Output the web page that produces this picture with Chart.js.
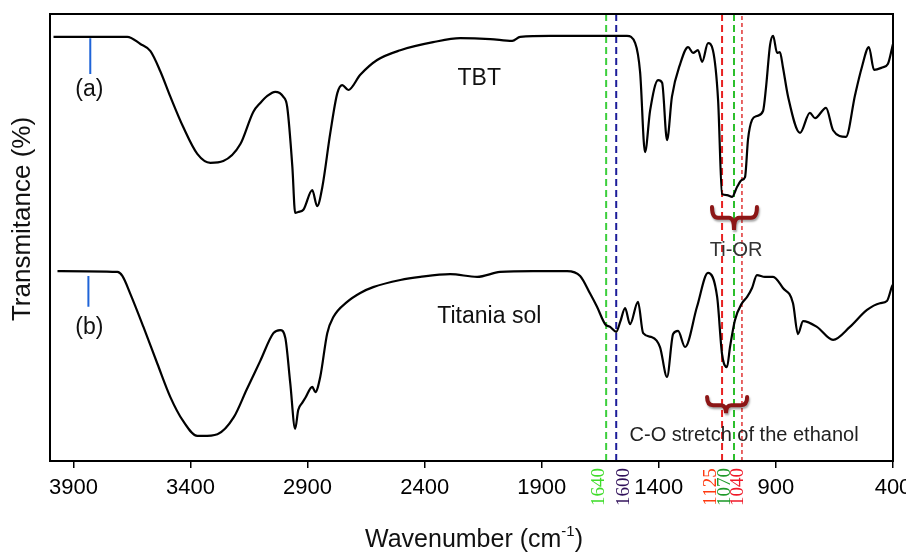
<!DOCTYPE html>
<html>
<head>
<meta charset="utf-8">
<script src="https://cdn.jsdelivr.net/npm/chart.js@4.4.0/dist/chart.umd.min.js"></script>
<style>
  html, body { margin: 0; padding: 0; background: #fff; }
  #wrap { width: 906px; height: 552px; }
</style>
</head>
<body>
<div id="wrap"><canvas id="ftir" width="906" height="552"></canvas></div>
<script>
// wavenumbers (cm-1) and transmittance (arbitrary %, offset spectra)
const tbtWave = [3985, 3827, 3670, 3614, 3571, 3529, 3486, 3431, 3371, 3315, 3260, 3187, 3132, 3102, 3072, 3038, 3004, 2987, 2965, 2953,
  2940, 2918, 2880, 2859, 2837, 2803, 2773, 2752, 2726, 2675, 2603, 2504, 2364, 2248, 2120, 2026, 1992, 1864, 1651, 1536,
  1501, 1480, 1459, 1437, 1403, 1386, 1365, 1344, 1309, 1275, 1254, 1233, 1215, 1190, 1169, 1147, 1130, 1109, 1087, 1066,
  1045, 1032, 1019, 1002, 981, 955, 942, 925, 912, 895, 883, 870, 848, 797, 755, 733, 686, 656, 601, 562,
  533, 503, 481, 443, 422, 404, 400]
const tbtT = [94.9, 94.9, 94.9, 93.3, 91.7, 87.2, 81.5, 74.7, 68.7, 66.7, 67.1, 70.9, 78.1, 80.1, 81.7, 82.6, 81.5, 79.2, 65.8, 55.5,
  55.7, 56.2, 60.6, 57.0, 61.3, 73.4, 82.3, 84.1, 83.0, 86.4, 89.7, 91.9, 93.7, 94.6, 94.4, 94.0, 94.9, 95.1, 95.1, 95.1,
  93.5, 87.0, 69.1, 78.5, 85.2, 84.6, 71.8, 81.5, 88.8, 92.6, 91.3, 91.9, 89.3, 93.5, 91.9, 80.8, 59.7, 59.5, 59.1, 61.3,
  62.9, 63.5, 72.0, 76.3, 77.2, 78.3, 83.7, 93.1, 95.1, 91.3, 91.5, 88.1, 81.5, 73.4, 77.9, 76.7, 79.0, 74.0, 72.5, 81.9,
  88.1, 92.6, 87.5, 88.1, 88.8, 92.4, 93.3]

const solWave = [3968, 3712, 3691, 3657, 3601, 3541, 3486, 3431, 3371, 3349, 3285, 3215, 3160, 3102, 3046, 3017, 2995, 2974, 2953, 2940,
  2923, 2910, 2880, 2867, 2846, 2816, 2790, 2731, 2675, 2620, 2504, 2419, 2291, 2176, 2078, 1937, 1792, 1736, 1693, 1664,
  1629, 1608, 1582, 1565, 1544, 1523, 1489, 1467, 1429, 1395, 1365, 1339, 1318, 1288, 1237, 1190, 1151, 1130, 1109, 1096,
  1075, 1045, 1023, 1002, 981, 947, 912, 870, 827, 806, 784, 725, 656, 584, 511, 456, 426, 404, 400]
const solT = [42.5, 42.3, 41.4, 37.4, 30.0, 21.7, 14.3, 8.9, 5.6, 5.6, 6.0, 9.8, 16.0, 22.4, 28.6, 29.3, 27.5, 17.4, 7.2, 11.4,
  13.0, 14.1, 16.6, 15.4, 18.8, 28.6, 32.2, 35.6, 37.6, 38.9, 40.5, 41.2, 41.8, 41.2, 42.3, 42.5, 42.5, 41.4, 37.4, 34.5,
  30.6, 30.0, 28.9, 31.1, 34.2, 30.6, 35.6, 28.6, 27.7, 25.5, 18.8, 28.4, 29.1, 25.5, 34.5, 42.1, 36.7, 23.9, 21.0, 25.5,
  31.5, 35.3, 36.7, 38.7, 41.6, 41.2, 41.2, 38.7, 35.3, 28.4, 31.3, 30.0, 27.1, 30.0, 33.8, 35.3, 35.8, 39.1, 39.5]

const tickValues = [3900, 3400, 2900, 2400, 1900, 1400, 900, 400]

// marked bands: where the dashed line sits, its label, where the label sits
const bandWaves = [1625, 1582, 1130, 1079, 1045]
const bandLabels = ['1640', '1600', '1125', '1070', '1040']
const bandLabelWaves = [1655, 1550, 1177, 1117, 1062]

const lineColors = ['#3ccf3c', '#1c1c9a', '#e82222', '#2cbf2c', '#d80000']
const labelColors = ['#3fdc2a', '#30105a', '#ff3a10', '#1f9a2a', '#f01828']

const join = (xs, ys) => xs.map((x, i) => ({ x, y: ys[i] }))

const bandDatasets = bandWaves.map((w, i) => ({
  data: [{ x: w, y: 0 }, { x: w, y: 100 }],
  borderColor: lineColors[i],
  borderWidth: i === 4 ? 1.2 : 2,
  borderDash: i === 4 ? [4, 3] : [7, 4],
  pointRadius: 0,
  showLine: true,
}))

const marker = (w, y1, y2) => ({
  data: [{ x: w, y: y1 }, { x: w, y: y2 }],
  borderColor: '#1f64d8',
  borderWidth: 2,
  pointRadius: 0,
  showLine: true,
})

function brace(ctx, x1, x2, xm, yEnd, yMid, yTip) {
  ctx.beginPath()
  ctx.moveTo(x1, yEnd)
  ctx.quadraticCurveTo(x1, yMid, x1 + 6, yMid)
  ctx.lineTo(xm - 5, yMid)
  ctx.quadraticCurveTo(xm, yMid, xm, yTip)
  ctx.quadraticCurveTo(xm, yMid, xm + 5, yMid)
  ctx.lineTo(x2 - 6, yMid)
  ctx.quadraticCurveTo(x2, yMid, x2, yEnd)
  ctx.stroke()
}

const decor = {
  id: 'decor',
  afterDraw(chart) {
    const { ctx, chartArea: a, scales: { x, y } } = chart
    const px = v => x.getPixelForValue(v)
    const py = v => y.getPixelForValue(v)
    ctx.save()

    // frame
    ctx.strokeStyle = '#000'
    ctx.lineWidth = 2
    ctx.strokeRect(a.left, a.top, a.right - a.left, a.bottom - a.top)

    // braces
    ctx.strokeStyle = '#8c1616'
    ctx.lineWidth = 4
    ctx.lineCap = 'round'
    ctx.shadowColor = 'rgba(0,0,0,0.35)'
    ctx.shadowOffsetX = 1
    ctx.shadowOffsetY = 2
    ctx.shadowBlur = 2
    brace(ctx, px(1173), px(981), px(1079), py(56.8), py(54.4), py(51.7))
    brace(ctx, px(1194), px(1023), px(1113), py(14.3), py(12.5), py(10.7))
    ctx.shadowColor = 'transparent'

    // annotations
    ctx.fillStyle = '#111'
    ctx.textAlign = 'center'
    ctx.textBaseline = 'middle'
    ctx.font = '23px "Liberation Sans", Arial, sans-serif'
    ctx.fillText('(a)', px(3832), py(83.0))
    ctx.fillText('(b)', px(3832), py(29.8))
    ctx.fillText('TBT', px(2167), py(85.5))
    ctx.fillText('Titania sol', px(2124), py(32.2))
    ctx.fillStyle = '#333'
    ctx.font = '20px "Liberation Sans", Arial, sans-serif'
    ctx.fillText('Ti-OR', px(1070), py(47.2))
    ctx.fillStyle = '#222'
    ctx.fillText('C-O stretch of the ethanol', px(1036), py(5.6))

    // band labels under the axis
    ctx.font = '19px "Liberation Serif", "Times New Roman", serif'
    bandLabels.forEach((t, i) => {
      ctx.save()
      ctx.translate(px(bandLabelWaves[i]), 487)
      ctx.rotate(-Math.PI / 2)
      ctx.fillStyle = labelColors[i]
      ctx.fillText(t, 0, 0)
      ctx.restore()
    })

    // axis titles
    ctx.fillStyle = '#111'
    ctx.textAlign = 'left'
    const main = 'Wavenumber (cm'
    ctx.font = '25px "Liberation Sans", Arial, sans-serif'
    const w1 = ctx.measureText(main).width
    ctx.font = '15px "Liberation Sans", Arial, sans-serif'
    const w2 = ctx.measureText('-1').width
    ctx.font = '25px "Liberation Sans", Arial, sans-serif'
    const w3 = ctx.measureText(')').width
    const startX = 474 - (w1 + w2 + w3) / 2
    ctx.fillText(main, startX, 540)
    ctx.font = '15px "Liberation Sans", Arial, sans-serif'
    ctx.fillText('-1', startX + w1, 532)
    ctx.font = '25px "Liberation Sans", Arial, sans-serif'
    ctx.fillText(')', startX + w1 + w2, 540)

    ctx.save()
    ctx.translate(23, 219)
    ctx.rotate(-Math.PI / 2)
    ctx.textAlign = 'center'
    ctx.font = '26px "Liberation Sans", Arial, sans-serif'
    ctx.fillText('Transmitance (%)', 0, 0)
    ctx.restore()

    ctx.restore()
  },
}

new Chart(document.querySelector('#ftir'), {
  type: 'scatter',
  data: {
    datasets: [
      { data: join(tbtWave, tbtT), borderColor: '#000', borderWidth: 2.2, pointRadius: 0, showLine: true, cubicInterpolationMode: 'monotone' },
      { data: join(solWave, solT), borderColor: '#000', borderWidth: 2.2, pointRadius: 0, showLine: true, cubicInterpolationMode: 'monotone' },
      ...bandDatasets,
      marker(3828, 94.6, 86.6),
      marker(3836, 41.4, 34.5),
    ],
  },
  options: {
    responsive: false,
    animation: false,
    layout: { padding: { left: 50, right: 13, top: 14, bottom: 0 } },
    plugins: { legend: { display: false }, tooltip: { enabled: false } },
    scales: {
      x: {
        type: 'linear',
        reverse: true,
        min: 400,
        max: 4000,
        afterBuildTicks: scale => { scale.ticks = tickValues.map(value => ({ value })) },
        afterFit: scale => { scale.height = 91; scale.paddingLeft = 0; scale.paddingRight = 0 },
        grid: { drawOnChartArea: false, drawTicks: true, tickLength: 7, color: '#000', lineWidth: 1.5 },
        border: { display: false },
        ticks: {
          color: '#000',
          padding: 7,
          maxRotation: 0,
          autoSkip: false,
          callback: value => String(value),
          font: { family: '"Liberation Sans", Arial, sans-serif', size: 22 },
        },
      },
      y: { display: false, min: 0, max: 100 },
    },
  },
  plugins: [decor],
})
</script>
</body>
</html>
